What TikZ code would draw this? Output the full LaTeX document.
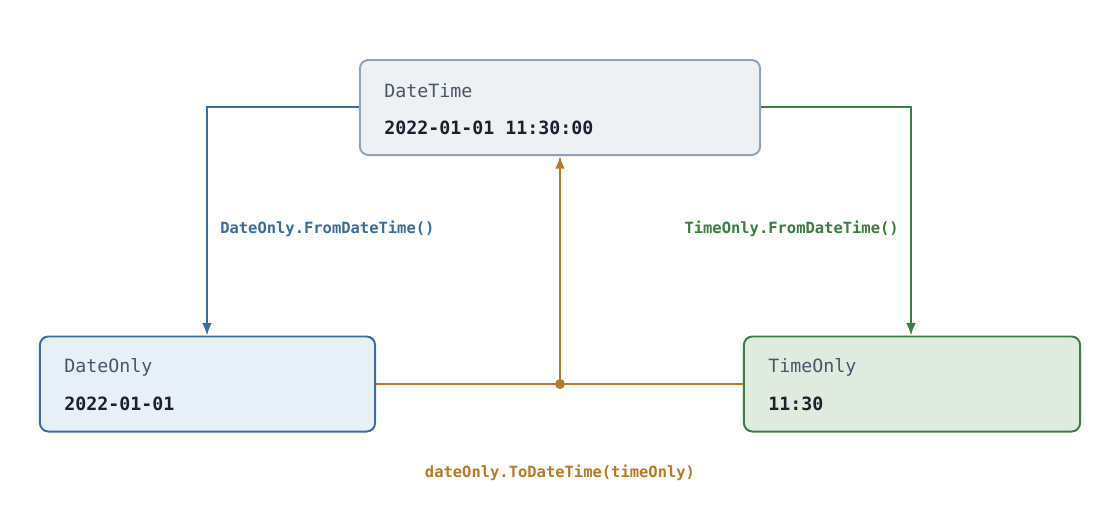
\documentclass[tikz,border=0pt]{standalone}
\usepackage{fontspec}
\setmonofont{DejaVu Sans Mono}
\usetikzlibrary{positioning,arrows.meta}
\definecolor{dtline}{HTML}{8FA3BA}
\definecolor{dtfill}{HTML}{EDF1F4}
\definecolor{doline}{HTML}{3C6C9C}
\definecolor{dofill}{HTML}{E7F0F6}
\definecolor{toline}{HTML}{3E7B45}
\definecolor{tofill}{HTML}{DEEBDE}
\definecolor{conv}{HTML}{B87A22}
\definecolor{ttl}{HTML}{4A5568}
\definecolor{val}{HTML}{1A202C}

\begin{document}
\begin{tikzpicture}[x=0.025cm, y=-0.025cm,
    box/.style={draw, line width=1.4pt, rounded corners=6pt, minimum width=10cm, minimum height=2.375cm},
    ttl/.style={anchor=west, font=\ttfamily\fontsize{13}{15}\selectfont, text=ttl, inner sep=0pt},
    val/.style={anchor=west, font=\ttfamily\bfseries\fontsize{13}{15}\selectfont, text=val, inner sep=0pt},
    lbl/.style={font=\ttfamily\bfseries\fontsize{11}{13}\selectfont, inner sep=0pt},
    link/.style={line width=1.4pt, -{Latex[length=9pt,width=7pt]}}]
    \useasboundingbox (0,0) rectangle (1120,516);

    \node[box, draw=dtline, fill=dtfill] (dt) at (560,107.5) {};
    \node[box, draw=doline, fill=dofill, minimum width=8.375cm] (do) at (207.5,384) {};
    \node[box, draw=toline, fill=tofill, minimum width=8.4cm] (to) at (912,384) {};

    \node[ttl] (dtt) at (384,91) {DateTime};
    \node[val] (dtv) at (384,128) {2022-01-01 11:30:00};
    \node[ttl] (dot) at (64,367) {DateOnly};
    \node[val] (dov) at (64,404) {2022-01-01};
    \node[ttl] (tot) at (768,367) {TimeOnly};
    \node[val] (tov) at (768,404) {11:30};

    \coordinate (mid) at (560,384);
    \fill[conv] (mid) circle (0.125cm);

    \draw[link, doline] (dt.west |- 0,107) -| (do.north -| 207,0);
    \draw[link, toline] (dt.east |- 0,107) -| (to.north -| 911,0);
    \draw[line width=1.4pt, conv] (do.east) -- (to.west);
    \draw[link, conv] (mid) -- (dt.south);

    \node[lbl, text=doline, anchor=west] at (220,229) {DateOnly.FromDateTime()};
    \node[lbl, text=toline, anchor=east] at (899,229) {TimeOnly.FromDateTime()};
    \node[lbl, text=conv] at (560,473) {dateOnly.ToDateTime(timeOnly)};
\end{tikzpicture}
\end{document}
